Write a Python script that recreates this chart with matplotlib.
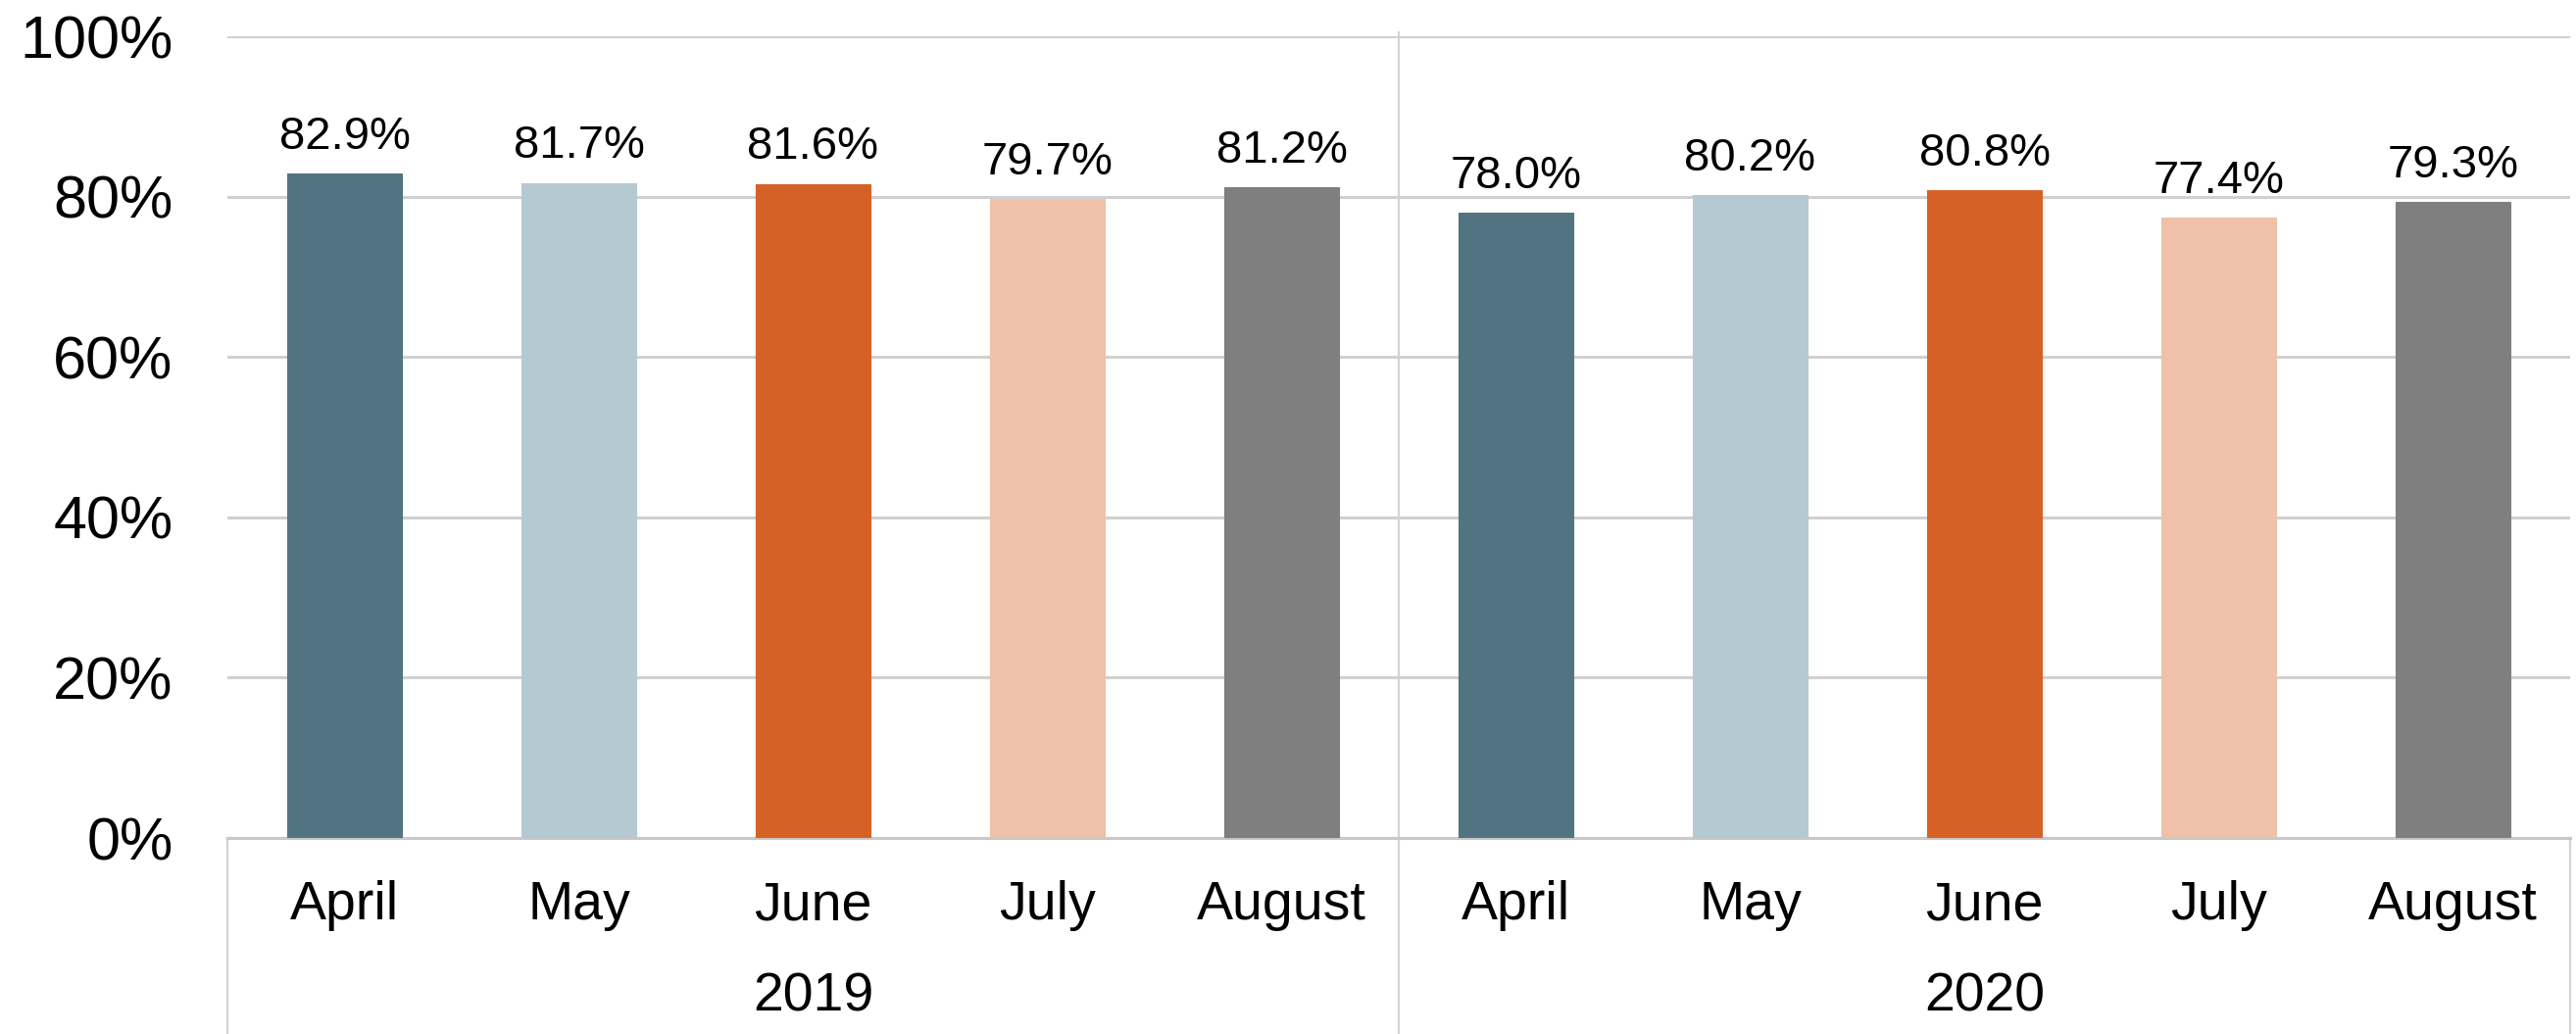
import matplotlib.pyplot as plt
import matplotlib.transforms as mtransforms

plt.rcParams['font.family'] = ['Liberation Sans', 'DejaVu Sans']

# datos
meses = ["April", "May", "June", "July", "August"]
anios = ["2019", "2020"]
valores_2019 = [82.9, 81.7, 81.6, 79.7, 81.2]
valores_2020 = [78.0, 80.2, 80.8, 77.4, 79.3]
colores_meses = ["#527482", "#B5C9D2", "#D66127", "#EFC1A9", "#7F7F7F"]
ticks_y = [0, 20, 40, 60, 80, 100]

valores = valores_2019 + valores_2020
etiquetas = meses * len(anios)
colores = colores_meses * len(anios)
posiciones = list(range(len(valores)))

W, H = 2628, 1055
fig = plt.figure(figsize=(W / 100, H / 100), dpi=100)
izq, der, abajo, arriba = 232, 2622, 855, 37
ax = fig.add_axes([izq / W, 1 - abajo / H, (der - izq) / W, (abajo - arriba) / H])

ax.bar(posiciones, valores, width=0.49, color=colores, edgecolor=colores,
       linewidth=0.8, zorder=3)

# etiquetas de datos
for x, v in zip(posiciones, valores):
    ax.annotate(f"{v:.1f}%", (x, v), xytext=(0, 11), textcoords="offset points",
                ha="center", va="bottom", fontsize=34, color="black")

ax.set_xlim(-0.5, len(valores) - 0.5)
ax.set_ylim(0, 100)
ax.set_yticks(ticks_y)
ax.set_yticklabels([f"{t}%" for t in ticks_y], fontsize=44)
ax.set_xticks(posiciones)
ax.set_xticklabels(etiquetas, fontsize=40)
ax.tick_params(axis="both", length=0)
ax.tick_params(axis="y", pad=40)
ax.tick_params(axis="x", pad=31)

ax.yaxis.grid(True, color="#D0D0D0", linewidth=2.2, zorder=0)
ax.set_axisbelow(True)
for lado in ["top", "right", "left"]:
    ax.spines[lado].set_visible(False)
ax.spines["bottom"].set_color("#C8C8C8")
ax.spines["bottom"].set_linewidth(2.2)

# caja de categorias de anio
trans = mtransforms.blended_transform_factory(ax.transData, ax.transAxes)
fondo = -(H - abajo) / (abajo - arriba)
n = len(meses)
for i in range(len(anios) + 1):
    xl = i * n - 0.5
    arriba_linea = 1.005 if 0 < i < len(anios) else 0
    ax.plot([xl, xl], [fondo, arriba_linea], transform=trans, color="#D3D3D3",
            linewidth=1.6, clip_on=False, zorder=1)
for i, anio in enumerate(anios):
    ax.text(i * n + (n - 1) / 2, -(1017 - abajo) / (abajo - arriba), anio,
            transform=trans, ha="center", va="center", fontsize=40)

fig.savefig("out.png", dpi=100)
